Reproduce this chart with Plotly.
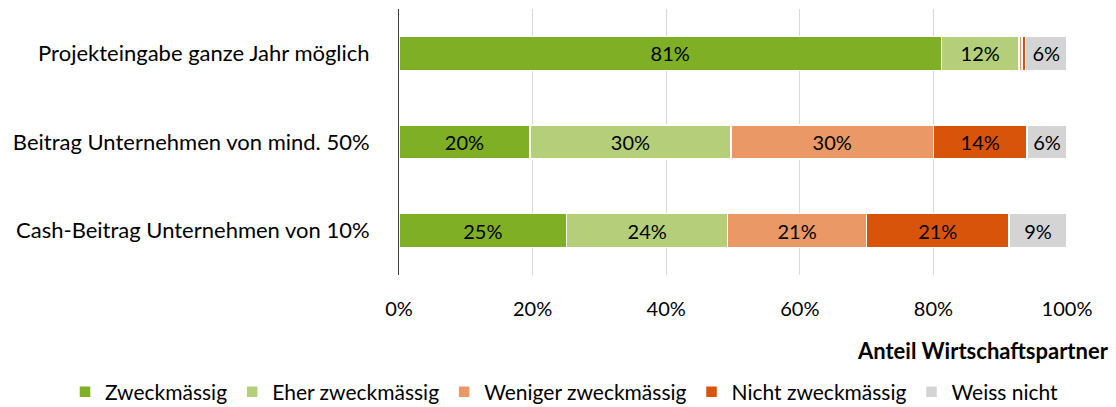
import plotly.graph_objects as go

categories = ["Projekteingabe ganze Jahr möglich",
              "Beitrag Unternehmen von mind. 50%",
              "Cash-Beitrag Unternehmen von 10%"]
series_names = ["Zweckmässig", "Eher zweckmässig", "Weniger zweckmässig",
                "Nicht zweckmässig", "Weiss nicht"]
zweckmaessig = [81.2, 19.6, 25.1]
eher_zweckmaessig = [11.6, 30.1, 24.1]
weniger_zweckmaessig = [0.5, 30.3, 20.8]
nicht_zweckmaessig = [0.5, 14.0, 21.3]
weiss_nicht = [6.2, 6.0, 8.7]
tick_vals = [0, 20, 40, 60, 80, 100]
tick_text = ["0%", "20%", "40%", "60%", "80%", "100%"]

colors = ["#7EAF24", "#B4CE7A", "#EA9865", "#D9540B", "#D4D4D4"]
FONT = "Lato"

fig = go.Figure()
for name, vals, col in zip(series_names,
                           [zweckmaessig, eher_zweckmaessig, weniger_zweckmaessig,
                            nicht_zweckmaessig, weiss_nicht], colors):
    txt = [f"{round(v)}%" if v >= 2 else "" for v in vals]
    fig.add_trace(go.Bar(
        y=categories, x=vals, name=name, orientation="h",
        marker=dict(color=col, line=dict(color="white", width=1.5)),
        text=txt, textposition="inside", insidetextanchor="middle",
        textfont=dict(color="black", size=20, family=FONT),
        constraintext="none", hoverinfo="skip",
    ))

fig.update_layout(
    barmode="stack",
    width=1116, height=407,
    margin=dict(l=399, r=49, t=9, b=132, autoexpand=False),
    plot_bgcolor="white", paper_bgcolor="white",
    bargap=0.616,
    font=dict(family=FONT, size=21, color="black"),
    showlegend=True,
    legend=dict(orientation="h", x=-0.50, xanchor="left", y=-0.440, yanchor="middle",
                font=dict(size=21, family=FONT), itemwidth=30, tracegroupgap=0,
                traceorder="normal"),
    uniformtext=dict(mode=False),
)
fig.update_xaxes(range=[0, 100], tickvals=tick_vals, ticktext=tick_text,
                 showgrid=True, gridcolor="#D9D9D9", gridwidth=1,
                 zeroline=False, showline=False, ticks="",
                 tickfont=dict(size=20, family=FONT), ticklabelstandoff=20)
fig.update_yaxes(autorange="reversed", showgrid=False, zeroline=False,
                 showline=True, linecolor="#404040", linewidth=1, ticks="",
                 tickfont=dict(size=22, family=FONT), ticklabelstandoff=24)
fig.add_annotation(text="<b>Anteil Wirtschaftspartner</b>", xref="paper", yref="paper",
                   x=1.066, y=-0.282, xanchor="right", yanchor="middle",
                   showarrow=False, font=dict(size=22, family=FONT, color="black"))

fig.write_html("out.html", config={"displayModeBar": False},
               post_script="document.body.style.margin='0';")
